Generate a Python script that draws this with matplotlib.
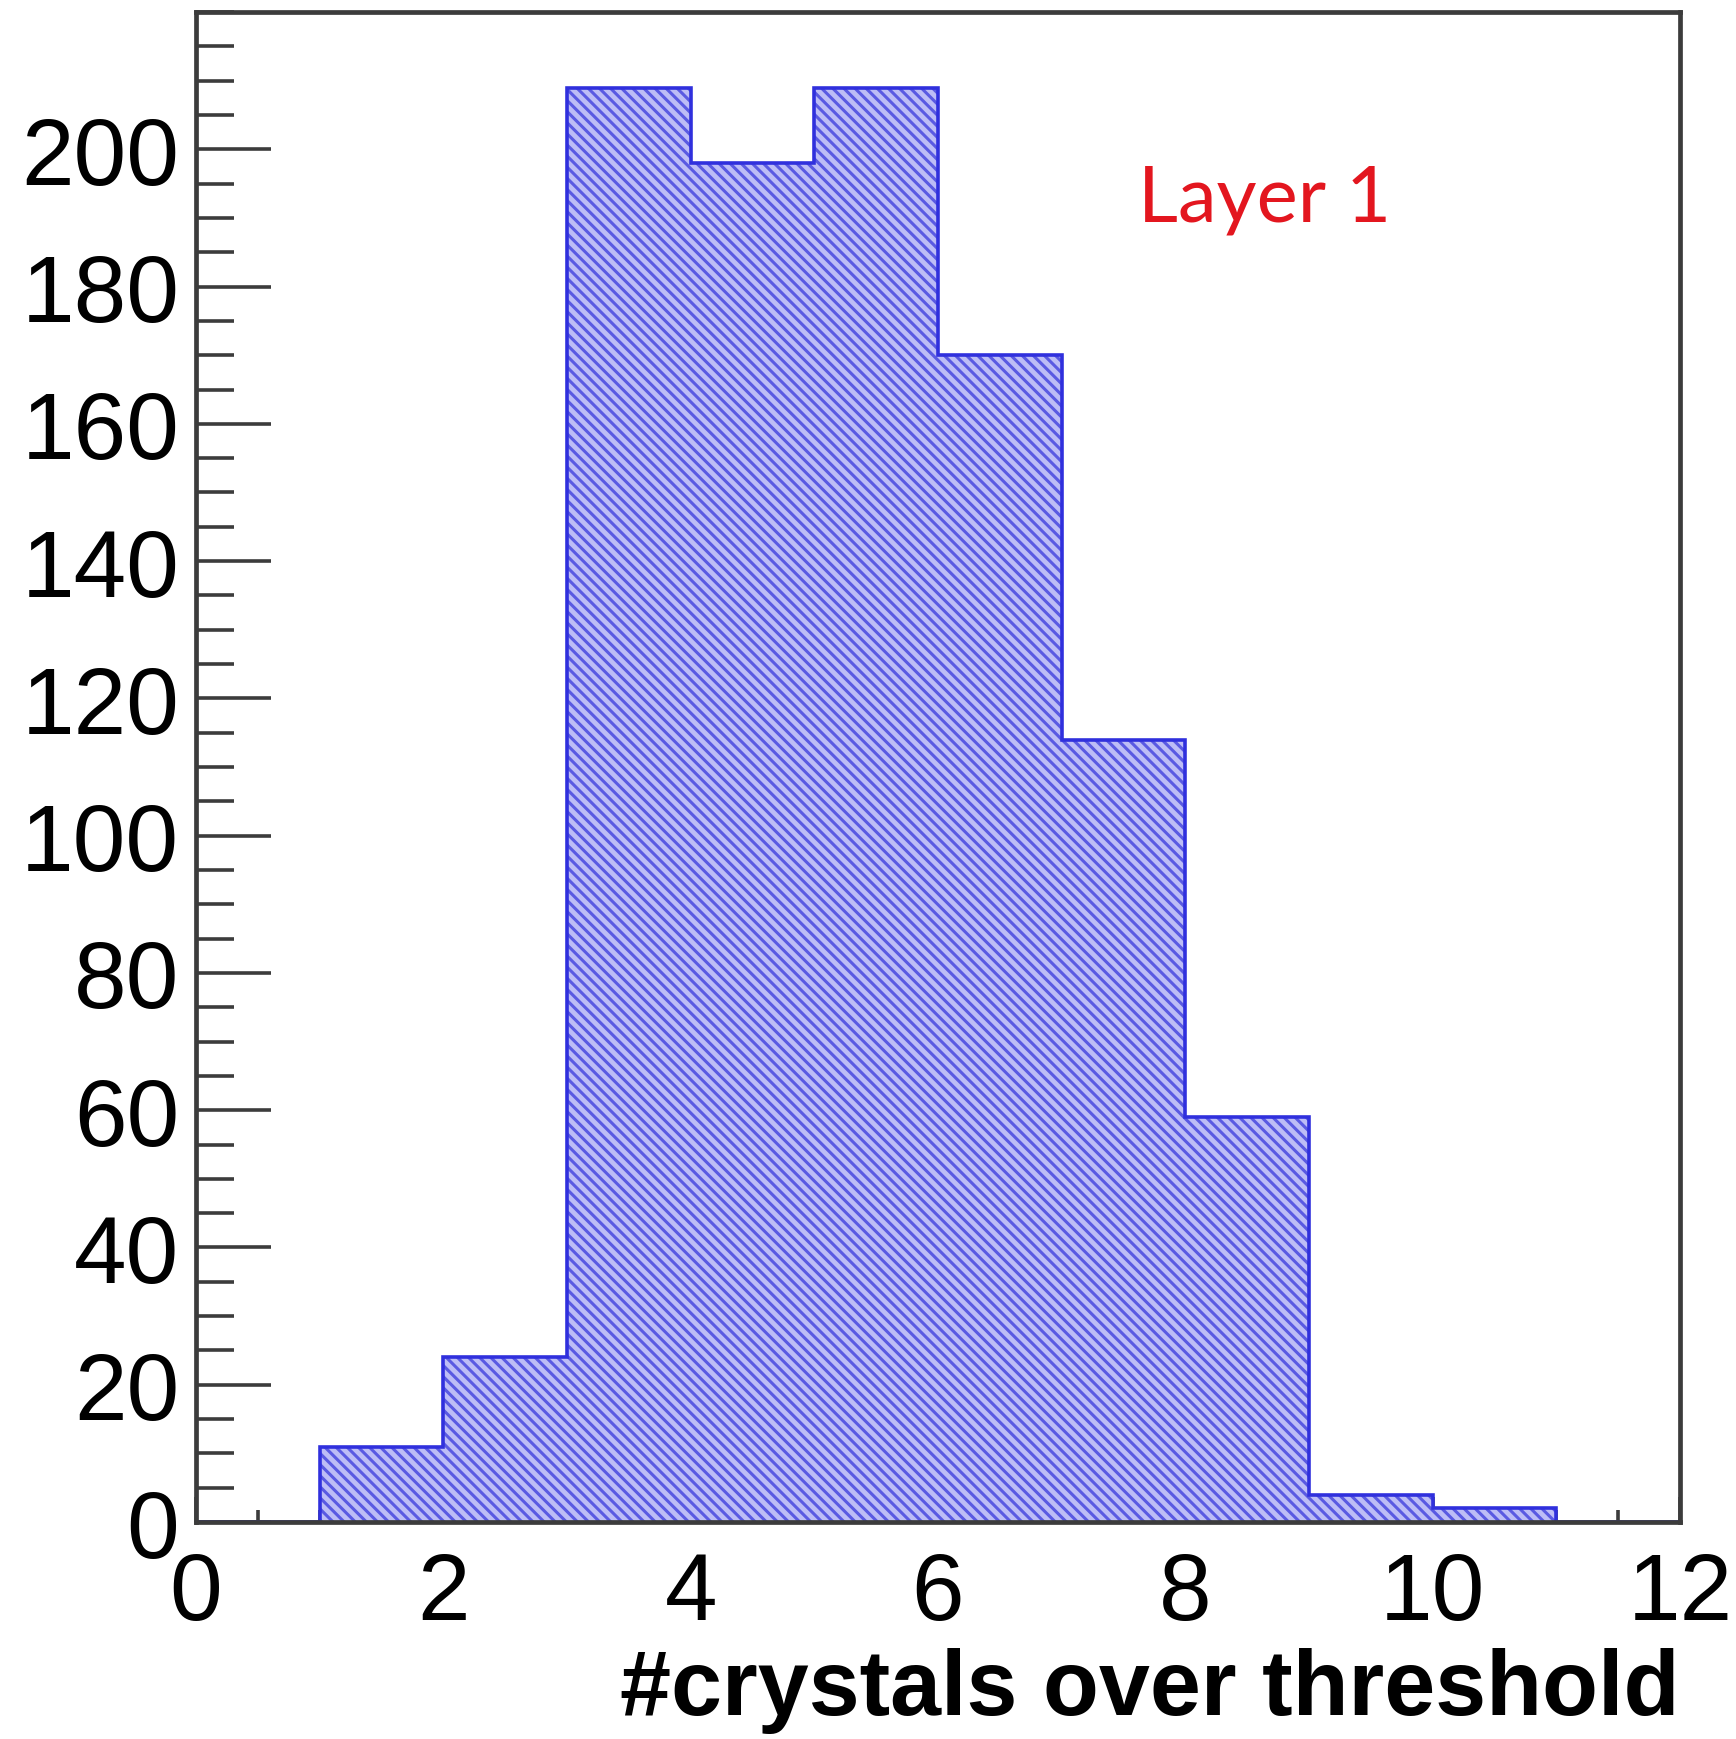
import matplotlib
matplotlib.use("Agg")
import matplotlib.pyplot as plt
import numpy as np
from matplotlib.ticker import MultipleLocator

# histogram contents
bin_edges = [0, 1, 2, 3, 4, 5, 6, 7, 8, 9, 10, 11, 12]
counts = [0, 11, 24, 209, 198, 209, 170, 114, 59, 4, 2, 0]

x_ticks = [0, 2, 4, 6, 8, 10, 12]
y_ticks = [0, 20, 40, 60, 80, 100, 120, 140, 160, 180, 200]

plt.rcParams['font.family'] = ['Liberation Sans', 'DejaVu Sans']
plt.rcParams['hatch.linewidth'] = 2.2

fig = plt.figure(figsize=(17.36, 17.40), dpi=100)
ax = fig.add_axes([0.1129, 0.1247, 0.9677 - 0.1129, 0.9925 - 0.1247])

fill_col = '#bdbdf6'
hatch_col = '#5a5ae2'
line_col = '#3030dd'

# hatched fill, then the outline on top
ax.stairs(counts, bin_edges, fill=True, facecolor=fill_col,
          edgecolor=hatch_col, hatch='\\\\\\', linewidth=0, zorder=2)
ax.stairs(counts, bin_edges, color=line_col, linewidth=2.6, zorder=3)

ax.set_xlim(0, 12)
ax.set_ylim(0, 220)
ax.set_xticks(x_ticks)
ax.set_yticks(y_ticks)
ax.xaxis.set_minor_locator(MultipleLocator(0.5))
ax.yaxis.set_minor_locator(MultipleLocator(5))

frame_col = '#3c3c3c'
for s in ax.spines.values():
    s.set_linewidth(3.4)
    s.set_color(frame_col)
    s.set_zorder(4)

ax.tick_params(axis='y', which='major', direction='in', length=54, width=2.6,
               color=frame_col, labelsize=68, pad=12)
ax.tick_params(axis='y', which='minor', direction='in', length=27, width=2.6,
               color=frame_col)
ax.tick_params(axis='x', which='major', direction='in', length=18, width=2.6,
               color=frame_col, labelsize=68, pad=20)
ax.tick_params(axis='x', which='minor', direction='in', length=9, width=2.6,
               color=frame_col)
ax.tick_params(which='both', top=False, right=False)

ax.set_xlabel('#crystals over threshold', fontsize=66, fontweight='bold',
              loc='right', labelpad=6)

ax.text(7.62, 189.7, 'Layer 1', color='#e3161f', fontsize=56,
        family=['Lato', 'DejaVu Sans'], va='baseline', ha='left')

fig.savefig('out.png', dpi=100)
